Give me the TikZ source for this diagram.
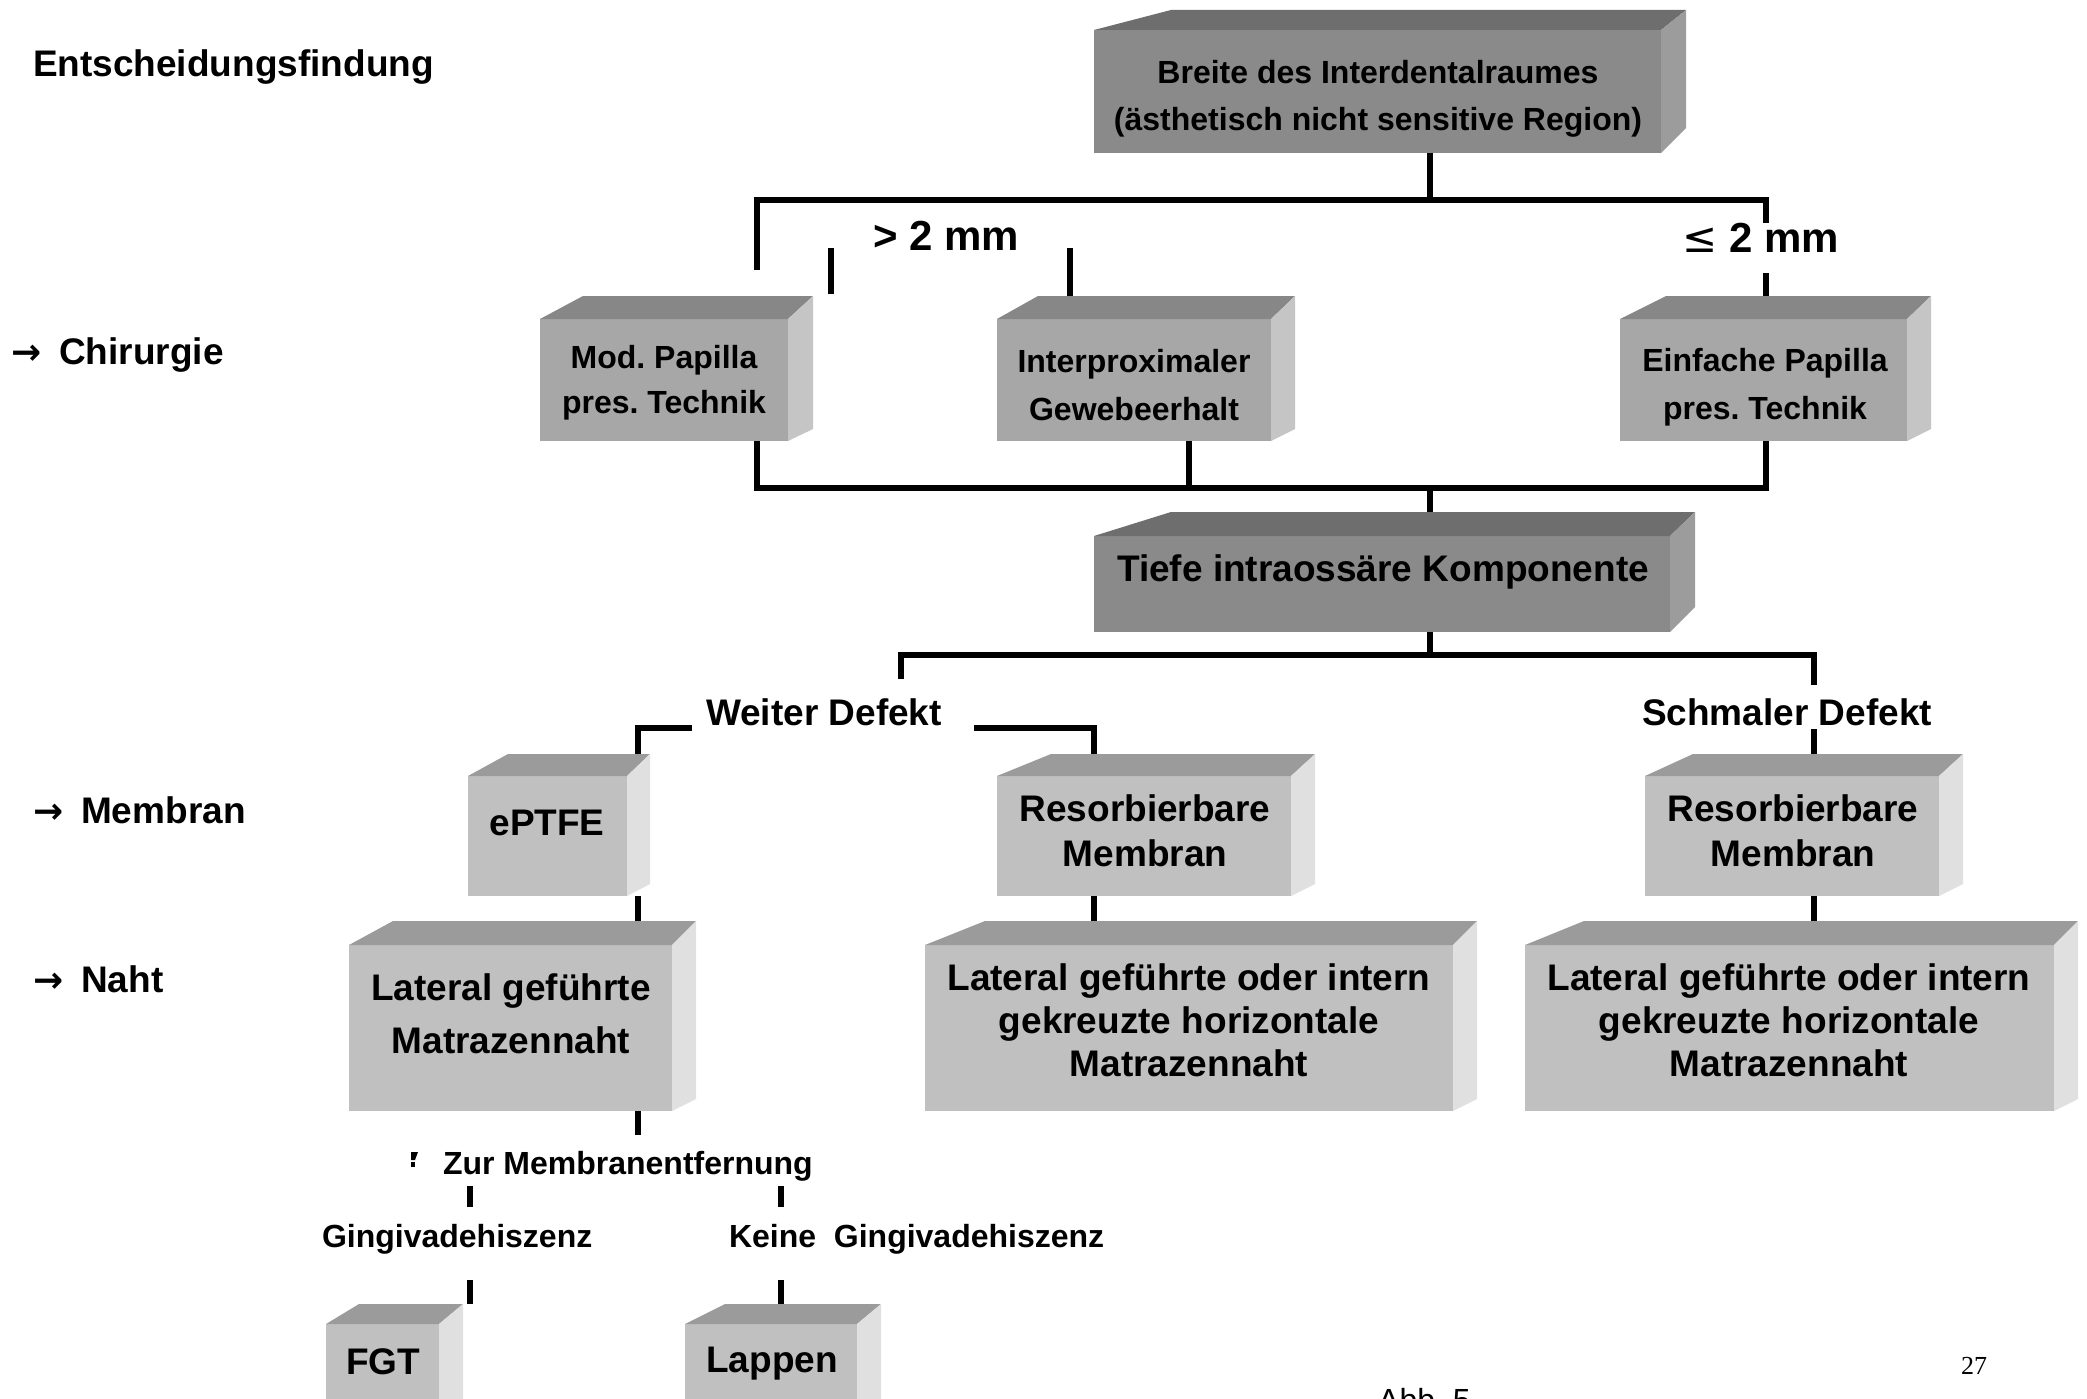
\documentclass[tikz,border=0pt]{standalone}
\usepackage{fontspec}
\setmainfont{Liberation Sans}
\newfontfamily\pnfont{Liberation Serif}
\newfontfamily\arrowfont{DejaVu Sans}
\frenchspacing
\usetikzlibrary{calc}
\definecolor{frA}{HTML}{8A8A8A}\definecolor{tpA}{HTML}{6E6E6E}\definecolor{sdA}{HTML}{9C9C9C}
\definecolor{frB}{HTML}{A7A7A7}\definecolor{tpB}{HTML}{878787}\definecolor{sdB}{HTML}{C5C5C5}
\definecolor{frC}{HTML}{C0C0C0}\definecolor{tpC}{HTML}{9B9B9B}\definecolor{sdC}{HTML}{E0E0E0}
\def\dbA{25}\def\dbB{12}\def\dbC{12}
\newcommand\fs[2]{\bfseries\fontsize{#1}{#2}\selectfont}
\newcommand\arr{{\arrowfont\bfseries\fontsize{36}{40}\selectfont →}\hspace{18pt}}
\tikzset{
  conn/.style={line width=5.5pt, line cap=butt, line join=miter},
  frontA/.style={fill=frA, rectangle, inner sep=0, outer sep=0},
  frontB/.style={fill=frB, rectangle, inner sep=0, outer sep=0},
  frontC/.style={fill=frC, rectangle, inner sep=0, outer sep=0},
  topA/.style={fill=tpA},topB/.style={fill=tpB},topC/.style={fill=tpC},
  sideA/.style={fill=sdA},sideB/.style={fill=sdB},sideC/.style={fill=sdC},
  txt/.style={inner sep=0, outer sep=0, align=center},
}
% #1 level, #2 name, #3 xL, #4 yT, #5 xR, #6 yB, #7 dxL, #8 dxR, #9 dy
\newcommand\cubebox[9]{%
  \node[front#1, minimum width={(#5)-(#3)}, minimum height={(#6)-(#4)}] (#2) at ({((#3)+(#5))/2},{((#4)+(#6))/2}) {};
  \fill[top#1] (#2.north west) -- ++(#7,-#9) -- ($(#2.north east)+(#8,-#9)$) -- (#2.north east) -- cycle;
  \fill[side#1] (#2.north east) -- ++(#8,-#9) -- ($(#2.south east)+(#8,-\csname db#1\endcsname)$) -- (#2.south east) -- cycle;
  \coordinate (#2-tf) at ($(#2.north)+(0,-#9)$);
}
\begin{document}
\begin{tikzpicture}[x=1pt,y=-1pt]
\fill[white] (0,0) rectangle (2087,1399);
\useasboundingbox (0,0) rectangle (2087,1399);

% boxes
\cubebox{A}{breite}{1094}{30}{1661}{153}{77}{25}{20}
\cubebox{A}{tiefe}{1094}{536}{1670}{632}{77}{25}{24}
\cubebox{B}{mp}{540}{319}{788}{441}{43}{25}{23}
\cubebox{B}{ip}{997}{319}{1271}{441}{41}{24}{23}
\cubebox{B}{ep}{1620}{319}{1907}{441}{46}{24}{23}
\cubebox{C}{eptfe}{468}{776}{627}{896}{40}{23}{22}
\cubebox{C}{rm}{997}{776}{1291}{896}{54}{24}{22}
\cubebox{C}{rr}{1645}{776}{1939}{896}{48}{24}{22}
\cubebox{C}{ll}{349}{945}{672}{1111}{44}{24}{24}
\cubebox{C}{lm}{925}{945}{1453}{1111}{60}{24}{24}
\cubebox{C}{lr}{1525}{945}{2054}{1111}{59}{24}{24}
\cubebox{C}{fgt}{326}{1324}{439}{1440}{33}{24}{20}
\cubebox{C}{lap}{685}{1324}{857}{1440}{40}{24}{20}

% box texts
\node[txt, font={\fs{32}{47}}] (breite-t) at (1378,99) {Breite des Interdentalraumes\\(ästhetisch nicht sensitive Region)};
\node[txt, font={\fs{32}{45}}] (mp-t) at (664,383) {Mod. Papilla\\pres. Technik};
\node[txt, font={\fs{32}{48}}] (ip-t) at (1134,385) {Interproximaler\\Gewebeerhalt};
\node[txt, font={\fs{32}{48}}] (ep-t) at (1765,387) {Einfache Papilla\\pres. Technik};
\node[txt, font={\fs{37}{44}}] (tiefe-t) at (1383,572) {Tiefe intraossäre Komponente};
\node[txt, font={\fs{37}{44}}] (eptfe-t) at (547,823) {ePTFE};
\node[txt, font={\fs{37}{45}}] (rm-t) at (1145,831) {Resorbierbare\\Membran};
\node[txt, font={\fs{37}{45}}] (rr-t) at (1793,831) {Resorbierbare\\Membran};
\node[txt, font={\fs{37}{53}}] (ll-t) at (511,1014) {Lateral geführte\\Matrazennaht};
\node[txt, font={\fs{37}{43}}] (lm-t) at (1189,1020) {Lateral geführte oder intern\\gekreuzte horizontale\\Matrazennaht};
\node[txt, font={\fs{37}{43}}] (lr-t) at (1789,1020) {Lateral geführte oder intern\\gekreuzte horizontale\\Matrazennaht};
\node[txt, font={\fs{37}{44}}] (fgt-t) at (383,1362) {FGT};
\node[txt, font={\fs{37}{44}}] (lap-t) at (772,1364) {Lappen};

% side labels
\node[txt, anchor=west, font={\fs{37}{44}}] (title) at (33,67) {Entscheidungsfindung};
\node[txt, anchor=west, font={\fs{37}{44}}] (chir) at (11,355) {\arr Chirurgie};
\node[txt, anchor=west, font={\fs{37}{44}}] (memb) at (33,810) {\arr Membran};
\node[txt, anchor=west, font={\fs{37}{44}}] (naht) at (33,979) {\arr Naht};

% branch labels
\node[txt, font={\fs{42}{50}}] (gt) at (946,236) {> 2 mm};
\node[txt, font={\fs{42}{50}}] (le) at (1761,238) {{\arrowfont\mdseries ≤} 2 mm};
\node[txt, font={\fs{37}{44}}] (weiter) at (824,712) {Weiter Defekt};
\node[txt, font={\fs{37}{44}}] (schmal) at (1787,712) {Schmaler Defekt};
\node[txt, anchor=west, font={\fs{32}{40}}] (zur) at (443,1166) {Zur Membranentfernung};
\node[txt, anchor=west, font={\fs{32}{40}}] (ging) at (322,1239) {Gingivadehiszenz};
\node[txt, anchor=west, font={\fs{32}{40}}] (keine) at (729,1239) {Keine\ \ Gingivadehiszenz};
\fill (411,1152) -- (418,1152) -- (415,1160) -- (411,1160) -- cycle;
\fill (411,1162) rectangle (415,1167);

\node[inner sep=0, font={\pnfont\fontsize{26}{30}\selectfont}] (pn) at (1974,1366) {27};
\node[inner sep=0, anchor=base west, font={\fontsize{32}{38}\selectfont}] (abb) at (1378,1411) {Abb. 5};

% connectors
\coordinate (c1) at (1430,200);
\coordinate (kL) at (757,200);
\coordinate (kR) at (1766,200);
\coordinate (kLe) at (757,270);
\coordinate (kRe) at (1766,223);
\coordinate (kRs) at (1766,273);
\coordinate (f1a) at (831,248);
\coordinate (f1b) at (831,294);
\coordinate (f2) at (1070,248);
\draw[conn] (breite.south -| c1) -- (c1);
\draw[conn] (kLe) -- (kL) -- (kR) -- (kRe);
\draw[conn] (f1a) -- (f1b);
\draw[conn] (f2) -- (f2 |- ip-tf);
\draw[conn] (kRs) -- (kRs |- ep-tf);

\coordinate (mL) at (757,488);
\coordinate (mR) at (1766,488);
\coordinate (mC) at (1430,488);
\coordinate (mI) at (1189,488);
\draw[conn] (mp.south -| mL) -- (mL) -- (mR) -- (ep.south -| mR);
\draw[conn] (ip.south -| mI) -- (mI);
\draw[conn] (mC) -- (tiefe-tf -| mC);

\coordinate (tC) at (1430,655);
\coordinate (tL) at (901,655);
\coordinate (tR) at (1814,655);
\coordinate (tLe) at (901,679);
\coordinate (tRe) at (1814,685);
\coordinate (tRs) at (1814,729);
\draw[conn] (tiefe.south -| tC) -- (tC);
\draw[conn] (tLe) -- (tL) -- (tR) -- (tRe);
\draw[conn] (tRs) -- (tRs |- rr-tf);

\coordinate (wL) at (638,728);
\coordinate (wLe) at (692,728);
\coordinate (wR) at (1094,728);
\coordinate (wRe) at (974,728);
\draw[conn] (wLe) -- (wL) -- (wL |- eptfe-tf);
\draw[conn] (wRe) -- (wR) -- (wR |- rm-tf);

\draw[conn] (eptfe.south -| wL) -- (ll-tf -| wL);
\draw[conn] (rm.south -| wR) -- (lm-tf -| wR);
\draw[conn] (rr.south -| tR) -- (lr-tf -| tR);

\coordinate (zl) at (638,1135);
\draw[conn] (ll.south -| zl) -- (zl);
\coordinate (g1a) at (470,1186);\coordinate (g1b) at (470,1207);
\coordinate (g2a) at (781,1186);\coordinate (g2b) at (781,1207);
\coordinate (h1) at (470,1280);\coordinate (h2) at (781,1280);
\draw[conn] (g1a) -- (g1b);
\draw[conn] (g2a) -- (g2b);
\draw[conn] (h1) -- (h1 |- fgt-tf);
\draw[conn] (h2) -- (h2 |- lap-tf);
\end{tikzpicture}
\end{document}
